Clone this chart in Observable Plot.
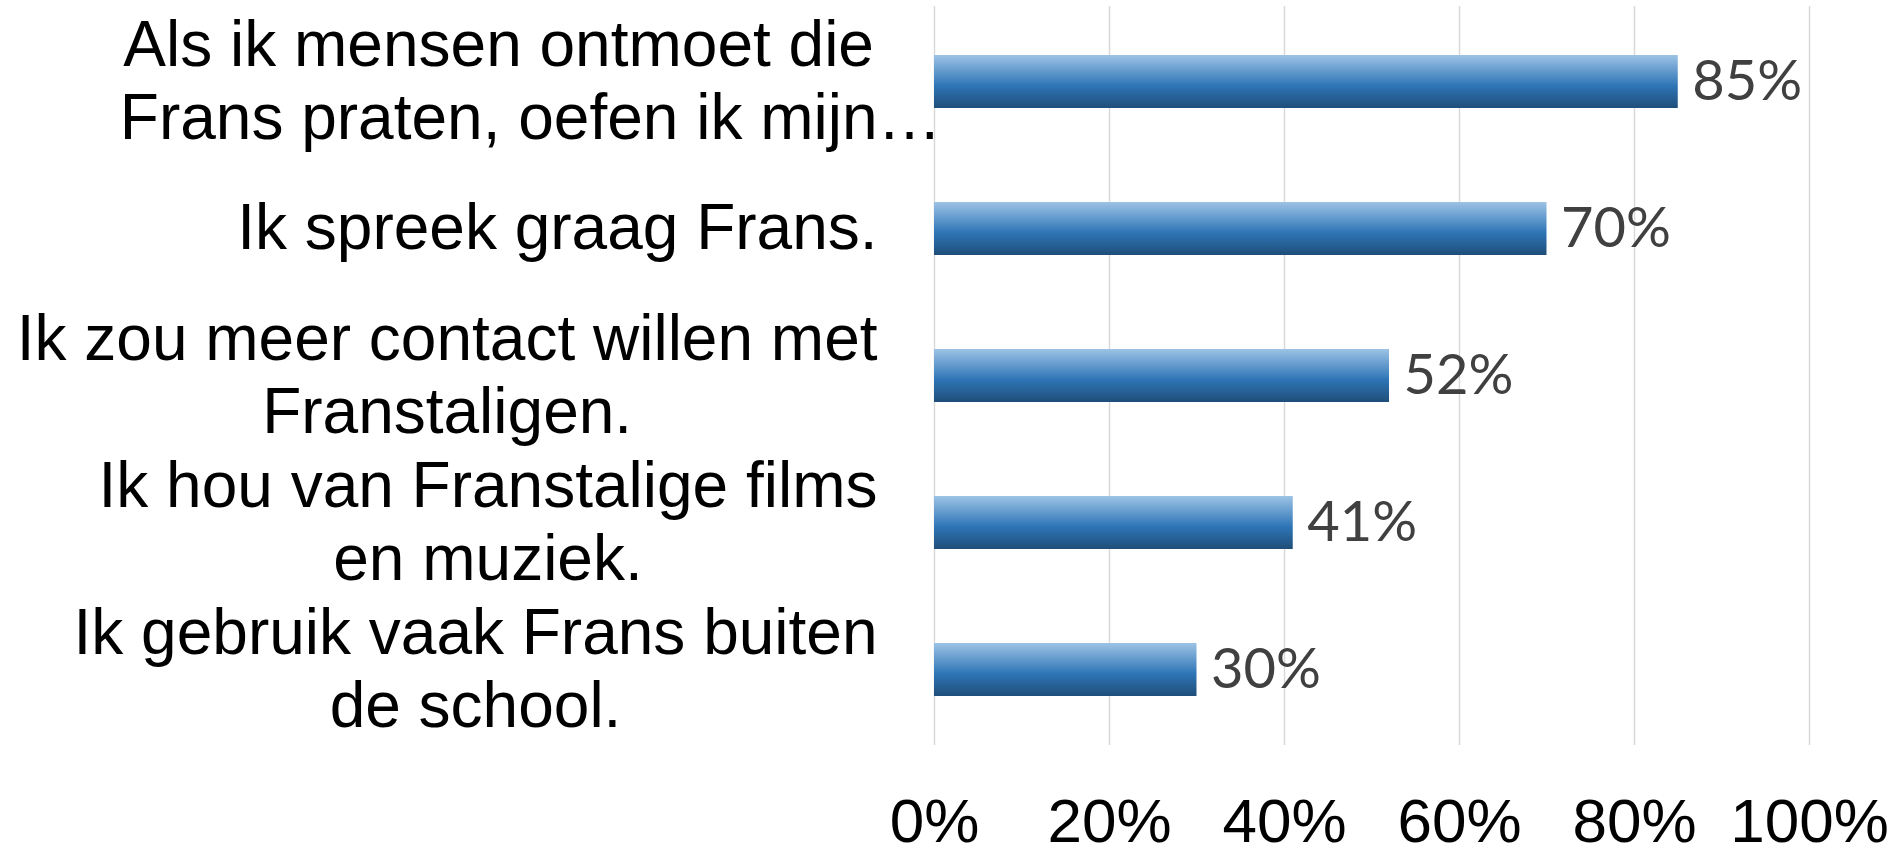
<!DOCTYPE html>
<html>
<head>
<meta charset="utf-8">
<script src="https://cdn.jsdelivr.net/npm/d3@7"></script>
<script src="https://cdn.jsdelivr.net/npm/@observablehq/plot@0.6"></script>
<style>
  html, body { margin: 0; padding: 0; background: #fff; }
  #chart svg { display: block; }
</style>
</head>
<body>
<div id="chart"></div>
<script>
const categories = [
  "Als ik mensen ontmoet die\nFrans praten, oefen ik mijn…",
  "Ik spreek graag Frans.",
  "Ik zou meer contact willen met\nFranstaligen.",
  "Ik hou van Franstalige films\nen muziek.",
  "Ik gebruik vaak Frans buiten\nde school."
];
const values = [0.85, 0.70, 0.52, 0.41, 0.30];
const xTicks = [0, 0.2, 0.4, 0.6, 0.8, 1.0];

const data = categories.map((c, i) => ({cat: c, value: values[i]}));

const labelFont = "'Liberation Sans', Arial, sans-serif";
const labelSize = 64;
const lineHeight = 73;
const rightGap = 57;

const canvas = document.createElement("canvas");
const ctx = canvas.getContext("2d");
ctx.font = `${labelSize}px 'Liberation Sans'`;
const measure = s => ctx.measureText(s.replace(/…$/, "")).width;

const labelMarks = [];
categories.forEach(c => {
  const lines = c.split("\n");
  const maxW = d3.max(lines, measure);
  const center = -rightGap - maxW / 2;
  lines.forEach((ln, j) => {
    const w = measure(ln);
    labelMarks.push(Plot.text([{cat: c, line: ln}], {
      y: "cat",
      text: "line",
      frameAnchor: "left",
      textAnchor: "start",
      dx: center - w / 2,
      dy: (j - (lines.length - 1) / 2) * lineHeight,
      fontSize: labelSize,
      fontFamily: labelFont,
      fill: "#000"
    }));
  });
});

const gradient = () => {
  const defs = d3.create("svg:defs");
  const g = defs.append("linearGradient")
    .attr("id", "barGrad")
    .attr("x1", 0).attr("y1", 0).attr("x2", 0).attr("y2", 1);
  g.append("stop").attr("offset", "0%").attr("stop-color", "#9dc3e6");
  g.append("stop").attr("offset", "58%").attr("stop-color", "#2e75b6");
  g.append("stop").attr("offset", "100%").attr("stop-color", "#1f4e79");
  return defs.node();
};

const chart = Plot.plot({
  width: 1899,
  height: 848,
  marginLeft: 934,
  marginRight: 90,
  marginTop: 6,
  marginBottom: 103,
  style: {background: "#fff", overflow: "visible"},
  x: {domain: [0, 1], axis: null},
  y: {domain: categories, paddingInner: 0.64, paddingOuter: 0.32, axis: null},
  marks: [
    gradient,
    Plot.ruleX(xTicks, {stroke: "#d9d9d9", strokeWidth: 1.5}),
    Plot.barX(data, {x: "value", y: "cat", fill: "url(#barGrad)"}),
    Plot.text(data, {
      x: "value", y: "cat",
      text: d => `${Math.round(d.value * 100)}%`,
      textAnchor: "start", dx: 14,
      fontSize: 56, fontFamily: "Lato, 'Open Sans', sans-serif",
      fill: "#404040"
    }),
    Plot.axisX(xTicks, {
      tickSize: 0, tickPadding: 52, label: null,
      tickFormat: d => `${Math.round(d * 100)}%`,
      fontSize: 62, fontFamily: labelFont, fill: "#000"
    }),
    ...labelMarks
  ]
});

document.getElementById("chart").appendChild(chart);
</script>
</body>
</html>
